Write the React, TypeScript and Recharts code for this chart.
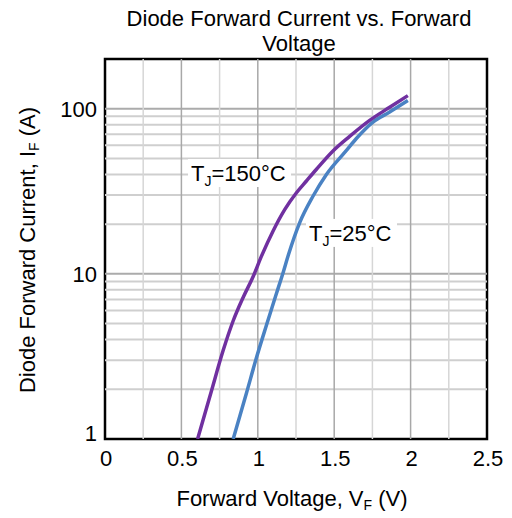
import React from "react";
import { LineChart, Line, XAxis, YAxis, ReferenceLine, ReferenceArea, ReferenceDot } from "recharts";

const FONT = "'Liberation Sans', Arial, sans-serif";

// 150°C curve
const hotV = [0.606, 0.697, 0.773, 0.839, 0.904, 0.969, 1.024, 1.1, 1.176, 1.253, 1.318, 1.384, 1.492, 1.601, 1.732, 1.863, 1.982];
const hotI = [1, 1.96, 3.43, 5.2, 7.2, 9.6, 12.8, 18.2, 24.5, 31, 36.5, 43, 55.5, 68, 85, 102, 120];
// 25°C curve
const coldV = [0.839, 0.926, 0.991, 1.057, 1.122, 1.166, 1.2, 1.275, 1.361, 1.449, 1.58, 1.645, 1.754, 1.863, 1.982];
const coldI = [1, 1.9, 3.1, 4.9, 7.6, 10.2, 13, 20.5, 29.5, 40, 55.9, 66, 83, 95.5, 112];

const xTicks = [0, 0.5, 1, 1.5, 2, 2.5];
const yTicks = [1, 10, 100];
const xMajorGrid = [0.5, 1, 1.5, 2];
const xMinorGrid = [0.25, 0.75, 1.25, 1.75, 2.25];
const yMajorGrid = [10, 100];
const yMinorGrid = [2, 3, 4, 5, 6, 7, 8, 9, 20, 30, 40, 50, 60, 70, 80, 90];

const hotData = hotV.map((v, i) => ({ v, i: hotI[i] }));
const coldData = coldV.map((v, i) => ({ v, i: coldI[i] }));

const YTick = (props: any) => {
  const { x, y, payload } = props;
  return (
    <text x={x} y={y} dy={payload.value === 1 ? 2 : 8} textAnchor="end" fontSize={22} fontFamily={FONT} fill="#000">
      {payload.value}
    </text>
  );
};

const XTick = (props: any) => {
  const { x, y, payload } = props;
  return (
    <text x={x + 1} y={y} dy={27} textAnchor="middle" fontSize={22} fontFamily={FONT} fill="#000">
      {payload.value}
    </text>
  );
};

const makeTag = (sub: string, rest: string, w: number) => (props: any) => {
  const vb = props.viewBox || {};
  const x = vb.x ?? 0;
  const y = vb.y ?? 0;
  return (
    <g>
      <rect x={x - 3} y={y - 14} width={w} height={28} fill="#fff" />
      <text x={x} y={y + 8} fontSize={22} fontFamily={FONT} fill="#000">
        T
        <tspan fontSize={14} dy={5}>{sub}</tspan>
        <tspan dy={-5}>{rest}</tspan>
      </text>
    </g>
  );
};

export default function App() {
  return (
    <div style={{ position: "absolute", left: 0, top: 0, width: 512, height: 518, background: "#fff" }}>
      <LineChart width={512} height={518} margin={{ top: 59, right: 25, left: 0, bottom: 49 }}>
        <XAxis
          type="number"
          dataKey="v"
          domain={[0, 2.5]}
          ticks={xTicks}
          allowDataOverflow
          height={30}
          tickLine={false}
          tickSize={0}
          tickMargin={0}
          axisLine={false}
          tick={<XTick />}
          interval={0}
        />
        <YAxis
          type="number"
          dataKey="i"
          scale="log"
          domain={[1, 200]}
          ticks={yTicks}
          allowDataOverflow
          width={105}
          tickLine={false}
          tickSize={0}
          tickMargin={8}
          axisLine={false}
          tick={<YTick />}
          interval={0}
        />
        {yMinorGrid.map((g) => (
          <ReferenceLine key={"ym" + g} y={g} stroke="#cfcfcf" strokeWidth={2} />
        ))}
        {yMajorGrid.map((g) => (
          <ReferenceLine key={"yM" + g} y={g} stroke="#ababab" strokeWidth={2} />
        ))}
        {xMinorGrid.map((g) => (
          <ReferenceLine key={"xm" + g} x={g} stroke="#d6d6d6" strokeWidth={1.5} />
        ))}
        {xMajorGrid.map((g) => (
          <ReferenceLine key={"xM" + g} x={g} stroke="#a8a8a8" strokeWidth={1.5} />
        ))}
        <ReferenceArea x1={0} x2={2.5} y1={1} y2={200} fill="none" stroke="#000" strokeWidth={2.5} fillOpacity={0} />
        <Line data={coldData} dataKey="i" type="monotone" stroke="#4a82c3" strokeWidth={3.5} dot={false} isAnimationActive={false} />
        <Line data={hotData} dataKey="i" type="monotone" stroke="#7030a0" strokeWidth={3.5} dot={false} isAnimationActive={false} />
        <ReferenceDot x={0.563} y={40.8} r={0} fill="none" stroke="none" label={{ content: makeTag("J", "=150°C", 103) }} />
        <ReferenceDot x={1.335} y={17.7} r={0} fill="none" stroke="none" label={{ content: makeTag("J", "=25°C", 91) }} />
      </LineChart>
      <svg width={512} height={518} style={{ position: "absolute", left: 0, top: 0, pointerEvents: "none" }}>
        <text x={299} y={26} textAnchor="middle" fontSize={22} fontFamily={FONT} fill="#000">
          Diode Forward Current vs. Forward
        </text>
        <text x={299} y={51} textAnchor="middle" fontSize={22} fontFamily={FONT} fill="#000">
          Voltage
        </text>
        <text x={292} y={506} textAnchor="middle" fontSize={22} fontFamily={FONT} fill="#000">
          Forward Voltage, V<tspan fontSize={14} dy={4}>F</tspan>
          <tspan dy={-4}> (V)</tspan>
        </text>
        <text
          x={35}
          y={250}
          textAnchor="middle"
          fontSize={22}
          fontFamily={FONT}
          fill="#000"
          transform="rotate(-90, 35, 250)"
        >
          Diode Forward Current, I<tspan fontSize={14} dy={4}>F</tspan>
          <tspan dy={-4}> (A)</tspan>
        </text>
      </svg>
    </div>
  );
}
